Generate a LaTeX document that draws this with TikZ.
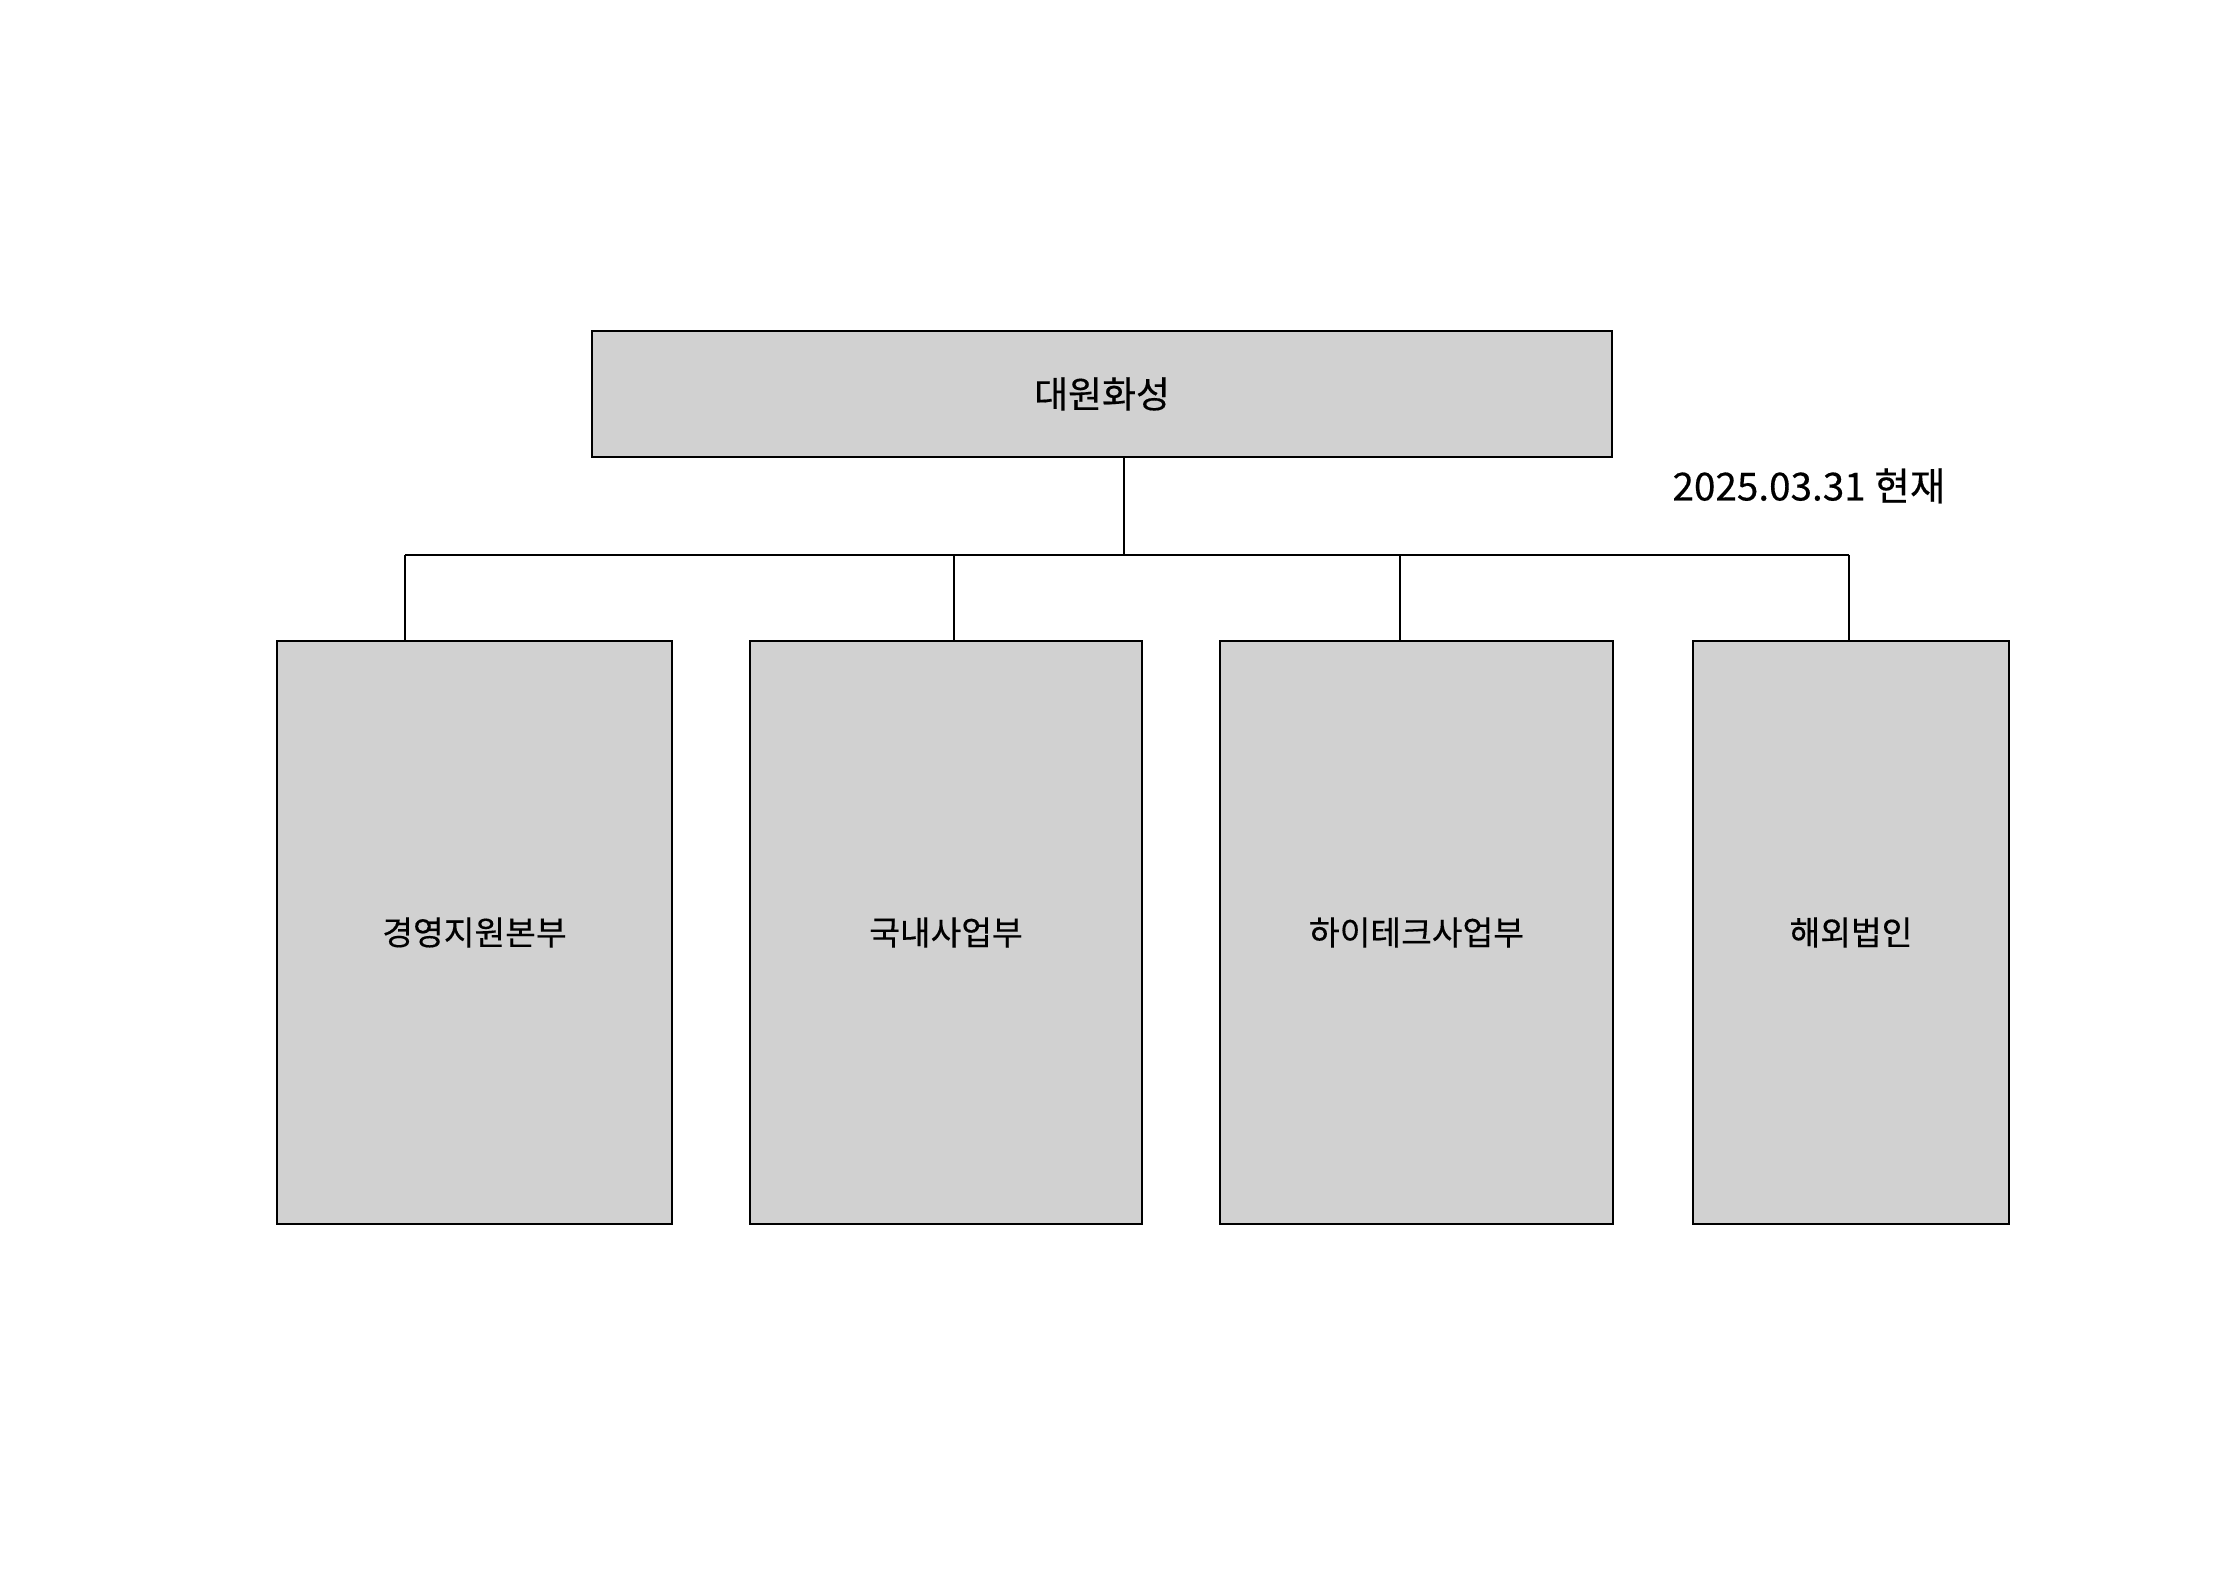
\documentclass[tikz,border=0pt]{standalone}
\usepackage{fontspec}
\setmainfont{Noto Sans CJK KR}[FakeBold=0.35]
\usepackage{tikz}
\usetikzlibrary{calc}

\tikzset{
    unit/.style = {draw, line width=.8pt, fill=black!18, inner sep=0pt, font=\fontsize{9.5}{11}\selectfont},
    link/.style = {line width=.6pt}
}

\begin{document}
\begin{tikzpicture}
    \useasboundingbox (0,0) rectangle (22.36,15.8);
    \node[unit, minimum width=10.2cm, minimum height=1.26cm, font=\fontsize{10.5}{12}\selectfont] (top) at (11.02,11.86) {대원화성};
    \node[font=\fontsize{11}{13}\selectfont] (date) at (18.09,10.94) {2025.03.31 현재};
    \node[unit, minimum width=3.95cm, minimum height=5.83cm] (mgmt) at (4.745,6.475) {경영지원본부};
    \node[unit, minimum width=3.92cm, minimum height=5.83cm] (dom) at (9.46,6.475) {국내사업부};
    \node[unit, minimum width=3.93cm, minimum height=5.83cm] (tech) at (14.165,6.475) {하이테크사업부};
    \node[unit, minimum width=3.16cm, minimum height=5.83cm] (intl) at (18.51,6.475) {해외법인};
    \coordinate (bus) at (11.24,10.25);
    \coordinate (j1) at (4.05,10.25);
    \coordinate (j2) at (9.54,10.25);
    \coordinate (j3) at (14.00,10.25);
    \coordinate (j4) at (18.49,10.25);
    \draw[link] (top.south -| bus) -- (bus);
    \draw[link] (j1) -- (j4);
    \draw[link] (j1) -- (j1 |- mgmt.north);
    \draw[link] (j2) -- (j2 |- dom.north);
    \draw[link] (j3) -- (j3 |- tech.north);
    \draw[link] (j4) -- (j4 |- intl.north);
\end{tikzpicture}
\end{document}
